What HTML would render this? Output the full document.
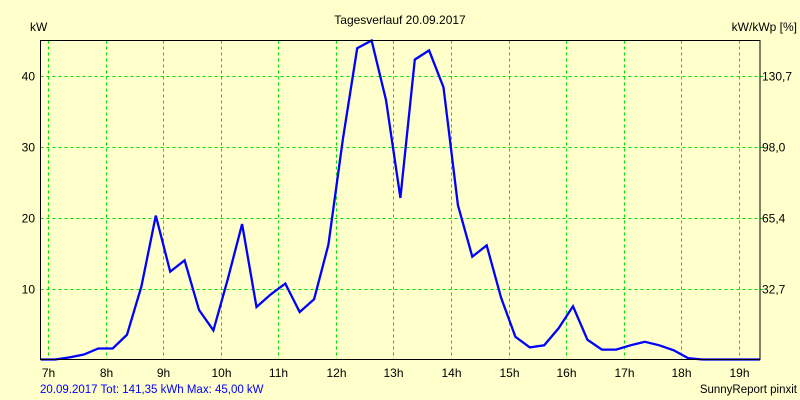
<!DOCTYPE html>
<html><head><meta charset="utf-8"><style>
body{margin:0;background:#FFFFCC;}
svg{display:block;font-family:"Liberation Sans",sans-serif;font-size:12px;}
</style></head><body>
<svg id="chart" width="800" height="400">
<rect x="0" y="0" width="800" height="400" fill="#FFFFCC"/>
<text x="400" y="24" text-anchor="middle" fill="#000">Tagesverlauf 20.09.2017</text>
<text x="30" y="31" fill="#000">kW</text>
<text x="797" y="31" text-anchor="end" fill="#000">kW/kWp [%]</text>
<g id="grid"></g>
<g id="ticks"></g>
<path id="series" fill="none" stroke="#0000FF" stroke-width="2.3" stroke-linejoin="miter"/>
<rect x="40.5" y="40.5" width="719.5" height="319" fill="none" stroke="#000" stroke-width="1"/>
<text x="40" y="393" fill="#0000FF" font-size="11.5">20.09.2017 Tot: 141,35 kWh Max: 45,00 kW</text>
<text x="797" y="393" text-anchor="end" fill="#000" font-size="11.5">SunnyReport pinxit</text>
</svg>
<script>
const hourTicks = [7,8,9,10,11,12,13,14,15,16,17,18,19];
const leftTicks = [10,20,30,40];
const rightTickLabels = ["32,7","65,4","98,0","130,7"];
const times = [6.87,7.12,7.37,7.62,7.87,8.12,8.37,8.62,8.87,9.12,9.37,9.62,9.87,10.12,10.37,10.62,10.87,11.12,11.37,11.62,11.87,12.12,12.37,12.62,12.87,13.12,13.37,13.62,13.87,14.12,14.37,14.62,14.87,15.12,15.37,15.62,15.87,16.12,16.37,16.62,16.87,17.12,17.37,17.62,17.87,18.12,18.37,18.62,18.87,19.12,19.37];
const powerKW = [0,0,0.3,0.7,1.55,1.55,3.5,10.3,20.3,12.4,14.0,7.0,4.1,11.3,19.1,7.4,9.2,10.7,6.7,8.5,16.2,31.0,43.9,45.0,36.6,22.8,42.3,43.6,38.4,21.8,14.5,16.1,8.7,3.2,1.7,2.0,4.4,7.5,2.8,1.4,1.4,2.0,2.5,2.0,1.3,0.2,0,0,0,0,0];

const X0=40.5,X1=760,Y0=40.5,Y1=359.5;
const hMin=6.866,hMax=19.37,vMax=45;
function xs(h){return X0+(h-hMin)/(hMax-hMin)*(X1-X0);}
function ys(v){return Y1-v/vMax*(Y1-Y0);}
const NS="http://www.w3.org/2000/svg";
const grid=document.getElementById('grid'),ticks=document.getElementById('ticks');
function mk(tag,attrs,parent){const e=document.createElementNS(NS,tag);for(const k in attrs)e.setAttribute(k,attrs[k]);parent.appendChild(e);return e;}
hourTicks.forEach(h=>{
  const x=Math.round(xs(h))+0.5;
  const l=mk('line',{x1:x,x2:x,y1:Y0,y2:Y1,stroke:'#00DD00','stroke-dasharray':'3,3'},grid);
  
  
  const t=mk('text',{x:x,y:377,'text-anchor':'middle',fill:'#000'},ticks);
  t.textContent=h+'h';
  
  
});
leftTicks.forEach((v,i)=>{
  const y=Math.round(ys(v))+0.5;
  const l=mk('line',{x1:X0,x2:X1+4,y1:y,y2:y,stroke:'#00DD00','stroke-dasharray':'3,3'},grid);
  
  
  const t=mk('text',{x:35,y:y+4,'text-anchor':'end',fill:'#000'},ticks);
  t.textContent=v;
  
  
  const r=mk('text',{x:762,y:y+4,fill:'#000'},ticks);
  r.textContent=rightTickLabels[i];
  
  
});
document.getElementById('series').setAttribute('d',times.map((t,i)=>(i?'L':'M')+xs(t).toFixed(1)+','+ys(powerKW[i]).toFixed(1)).join(''));
</script>
</body></html>
